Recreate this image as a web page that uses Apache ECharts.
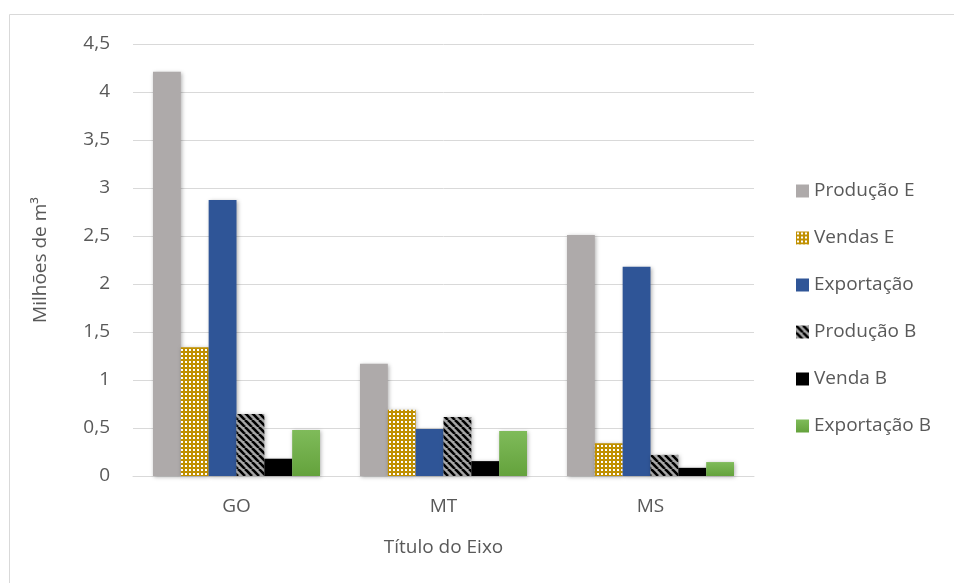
<!DOCTYPE html>
<html><head><meta charset="utf-8">
<script src="https://cdn.jsdelivr.net/npm/echarts@6/dist/echarts.min.js"></script>
<style>html,body{margin:0;padding:0;background:#fff}#c{width:954px;height:583px}</style>
</head><body><div id="c"></div>
<script>
const categories = ['GO', 'MT', 'MS'];
const seriesNames = ['Produção E', 'Vendas E', 'Exportação', 'Produção B', 'Venda B', 'Exportação B'];
const producaoE = [4.21, 1.17, 2.51];
const vendasE = [1.34, 0.69, 0.34];
const exportacao = [2.875, 0.49, 2.18];
const producaoB = [0.645, 0.615, 0.22];
const vendaB = [0.18, 0.155, 0.085];
const exportacaoB = [0.48, 0.47, 0.145];
const yTicks = ['0', '0,5', '1', '1,5', '2', '2,5', '3', '3,5', '4', '4,5'];

function dotPattern() {
  const c = document.createElement('canvas'); c.width = 4; c.height = 4;
  const g = c.getContext('2d');
  g.fillStyle = '#c09000'; g.fillRect(0, 0, 4, 4);
  g.fillStyle = '#ffffff'; g.fillRect(1, 1, 2, 2);
  return c;
}
function stripePattern() {
  const s = 7;
  const c = document.createElement('canvas'); c.width = s; c.height = s;
  const g = c.getContext('2d');
  g.fillStyle = '#a6a6a6'; g.fillRect(0, 0, s, s);
  g.strokeStyle = '#000'; g.lineWidth = 2.6;
  for (let k = -1; k <= 1; k++) {
    g.beginPath(); g.moveTo(k * s, 0); g.lineTo(k * s + s, s); g.stroke();
  }
  return c;
}
const shadow = {shadowBlur: 4, shadowColor: 'rgba(0,0,0,0.3)', shadowOffsetX: 1, shadowOffsetY: 1};
const colors = [
  '#aeaaaa',
  {image: dotPattern(), repeat: 'repeat'},
  '#2f5597',
  {image: stripePattern(), repeat: 'repeat'},
  '#000000',
  {type: 'linear', x: 0, y: 0, x2: 0, y2: 1, colorStops: [{offset: 0, color: '#7fbb5a'}, {offset: 1, color: '#64a23c'}]}
];
const dataSets = [producaoE, vendasE, exportacao, producaoB, vendaB, exportacaoB];
const font = '"Open Sans", Lato, sans-serif';
const fs = 19;

const chart = echarts.init(document.getElementById('c'));
chart.setOption({
  animation: false,
  textStyle: {fontFamily: font},
  graphic: [{type: 'rect', shape: {x: 9.5, y: 14.5, width: 1000, height: 1000}, style: {fill: 'none', stroke: '#d9d9d9', lineWidth: 1}, silent: true}],
  grid: {left: 133, right: 200, top: 44, bottom: 107},
  legend: {
    orient: 'vertical', left: 796, top: 181, padding: 0,
    itemWidth: 13, itemHeight: 13, itemGap: 27,
    icon: 'rect',
    textStyle: {fontSize: fs, color: '#595959', fontFamily: font, lineHeight: 20},
    data: seriesNames
  },
  xAxis: {
    type: 'category', data: categories,
    axisLine: {lineStyle: {color: '#d9d9d9', width: 1}},
    axisTick: {show: false},
    axisLabel: {fontSize: fs, color: '#595959', margin: 21, fontFamily: font},
    name: 'Título do Eixo', nameLocation: 'middle', nameGap: 62,
    nameTextStyle: {fontSize: fs, color: '#595959', fontFamily: font}
  },
  yAxis: {
    type: 'value', min: 0, max: 4.5, interval: 0.5,
    axisLine: {show: false}, axisTick: {show: false},
    splitLine: {lineStyle: {color: '#d9d9d9', width: 1}},
    axisLabel: {fontSize: fs, color: '#595959', margin: 23, fontFamily: font,
      formatter: (v) => yTicks[Math.round(v / 0.5)]},
    name: 'Milhões de m³', nameLocation: 'middle', nameGap: 83,
    nameTextStyle: {fontSize: fs, color: '#595959', fontFamily: font}
  },
  series: seriesNames.map((n, i) => ({
    name: n, type: 'bar', data: dataSets[i],
    barGap: '0%', barCategoryGap: '19.3%',
    itemStyle: Object.assign({color: colors[i]}, shadow)
  }))
});
</script></body></html>
